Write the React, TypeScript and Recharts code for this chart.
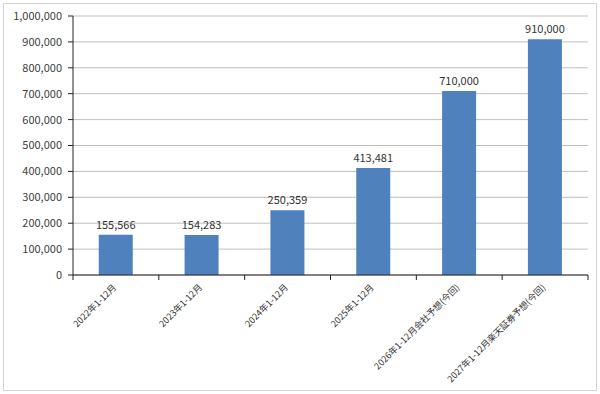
import { BarChart, Bar, XAxis, YAxis, CartesianGrid, LabelList } from "recharts";

const periods = [
  "2022年1-12月",
  "2023年1-12月",
  "2024年1-12月",
  "2025年1-12月",
  "2026年1-12月会社予想(今回)",
  "2027年1-12月楽天証券予想(今回)",
];
const values = [155566, 154283, 250359, 413481, 710000, 910000];
const yTicks = [0, 100000, 200000, 300000, 400000, 500000, 600000, 700000, 800000, 900000, 1000000];

const data = periods.map((period, i) => ({ period, value: values[i] }));

const W = 600;
const H = 394;
const margin = { top: 16, right: 12, left: 0, bottom: 9 };
const yAxisWidth = 73;
const plotWidth = W - margin.left - margin.right - yAxisWidth;
const step = plotWidth / periods.length;
const font = '"Noto Sans CJK JP", "Noto Sans", sans-serif';

const fmt = (v: number) => v.toLocaleString("en-US");

function PeriodTick(props: any) {
  const { x, y, payload, index } = props;
  const axisY = y - 8;
  const tx = x + 1;
  const ty = y + 5;
  return (
    <g>
      <line x1={x - step / 2} y1={axisY} x2={x - step / 2} y2={axisY + 5} stroke="#222" />
      {index === periods.length - 1 && (
        <line x1={x + step / 2} y1={axisY} x2={x + step / 2} y2={axisY + 5} stroke="#222" />
      )}
      <text
        x={tx}
        y={ty}
        textAnchor="end"
        fontSize={9}
        fontFamily={font}
        fill="#333"
        transform={`rotate(-45, ${tx}, ${ty})`}
      >
        {payload.value}
      </text>
    </g>
  );
}

export default function App() {
  return (
    <div style={{ position: "absolute", left: 0, top: 0, width: W, height: H, background: "#fff" }}>
      <div
        style={{
          position: "absolute",
          left: 3,
          top: 3,
          width: W - 8,
          height: H - 8,
          border: "1px solid #d4d4d4",
        }}
      />
      <BarChart
        width={W}
        height={H}
        data={data}
        margin={margin}
        barCategoryGap="30%"
        style={{ position: "absolute", left: 0, top: 0 }}
      >
        <CartesianGrid vertical={false} stroke="#bfbfbf" />
        <XAxis
          dataKey="period"
          interval={0}
          height={110}
          tick={<PeriodTick />}
          tickLine={false}
          axisLine={{ stroke: "#222" }}
        />
        <YAxis
          width={yAxisWidth}
          domain={[0, 1000000]}
          ticks={yTicks}
          tickFormatter={fmt}
          tickSize={5}
          tickMargin={6}
          tickLine={{ stroke: "#222" }}
          axisLine={{ stroke: "#222" }}
          tick={{ fill: "#404040", fontSize: 11, fontFamily: font }}
        />
        <Bar dataKey="value" fill="#4f81bd" isAnimationActive={false}>
          <LabelList
            dataKey="value"
            position="top"
            offset={6}
            formatter={(v: any) => fmt(Number(v))}
            style={{ fill: "#333", fontSize: 11, fontFamily: font }}
          />
        </Bar>
      </BarChart>
    </div>
  );
}
